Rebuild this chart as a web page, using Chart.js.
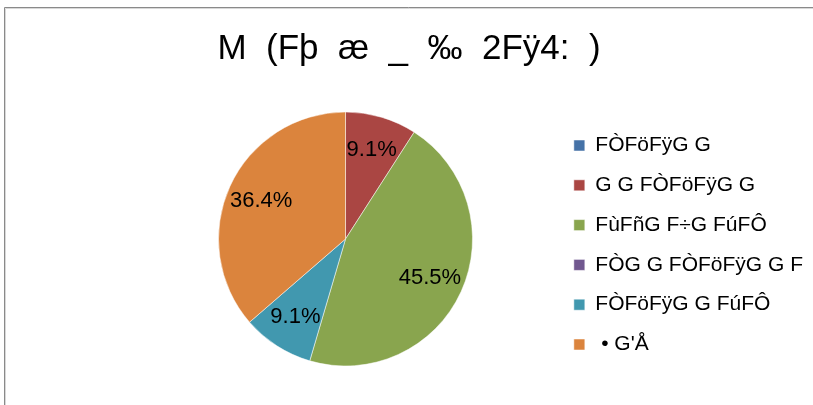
<!DOCTYPE html>
<html>
<head>
<meta charset="utf-8">
<script src="https://cdn.jsdelivr.net/npm/chart.js@4"></script>
<style>
  html, body { margin:0; padding:0; background:#fff; }
  #wrap { width:813px; height:405px; position:relative; }
</style>
</head>
<body>
<div id="wrap"><canvas id="chPie"></canvas></div>
<script>
// pie data
var labels = ['FÒFöFÿG G', 'G G FÒFöFÿG G', 'FùFñG F÷G FúFÔ', 'FÒG G FÒFöFÿG G F', 'FÒFöFÿG G FúFÔ', ' • G\'Å'];
var values = [0, 1, 5, 0, 1, 4];
var colors = ['#4572A7', '#AA4643', '#89A54E', '#71588F', '#4198AF', '#DB843D'];
var titleText = 'M  (Fþ  æ  _  ‰  2Fÿ4:  )';

var font = "'Liberation Sans', Arial, sans-serif";

// empty box on the left so the pie sits where it should
// while the title stays centred on the whole frame
var spacerPlugin = {
  id: 'spacer',
  beforeInit: function (chart) {
    Chart.layouts.addBox(chart, {
      position: 'left',
      weight: 0,
      fullSize: false,
      options: { display: false },
      isHorizontal: function () { return false; },
      update: function (maxWidth, maxHeight) { this.width = 131; this.height = maxHeight; },
      draw: function () {}
    });
  }
};

// gray frame round the chart (top + left visible)
var framePlugin = {
  id: 'frame',
  beforeDraw: function (chart) {
    var c = chart.ctx;
    c.save();
    c.lineWidth = 1;
    c.strokeStyle = '#d8d8d8';
    c.beginPath();
    c.moveTo(5.5, 406); c.lineTo(5.5, 8.5); c.lineTo(813, 8.5);
    c.stroke();
    c.strokeStyle = '#8a8a8a';
    c.beginPath();
    c.moveTo(4.5, 406); c.lineTo(4.5, 7.5); c.lineTo(813, 7.5);
    c.stroke();
    c.restore();
  }
};

// percentage labels inside slices
var pctPlugin = {
  id: 'pct',
  afterDatasetsDraw: function (chart) {
    var c = chart.ctx;
    var meta = chart.getDatasetMeta(0);
    var total = values.reduce(function (a, b) { return a + b; }, 0);
    c.save();
    c.font = '22px ' + font;
    c.fillStyle = '#000';
    c.textAlign = 'center';
    c.textBaseline = 'middle';
    meta.data.forEach(function (arc, i) {
      if (!values[i]) return;
      var p = arc.getProps(['x', 'y', 'startAngle', 'endAngle', 'outerRadius'], true);
      var mid = (p.startAngle + p.endAngle) / 2;
      var r = p.outerRadius * 0.73;
      c.fillText((values[i] / total * 100).toFixed(1) + '%', p.x + Math.cos(mid) * r, p.y + Math.sin(mid) * r);
    });
    c.restore();
  }
};

var chPie = document.getElementById('chPie');
if (chPie) {
  new Chart(chPie, {
    type: 'pie',
    data: {
      labels: labels,
      datasets: [{
        backgroundColor: colors,
        borderColor: '#ffffff',
        borderWidth: 0.5,
        data: values
      }]
    },
    options: {
      responsive: true,
      maintainAspectRatio: false,
      animation: false,
      radius: 127,
      layout: { padding: { left: 5, right: 0, top: 0, bottom: 27 } },
      plugins: {
        title: {
          display: true,
          text: titleText,
          color: '#000',
          font: { family: font, size: 35, weight: 'normal' },
          padding: { top: 28, bottom: 30 }
        },
        legend: {
          position: 'right',
          align: 'center',
          fullSize: false,
          // blank legend title, only nudges the items down a little
          title: { display: true, text: '', font: { size: 1 }, padding: 5.4 },
          labels: {
            boxWidth: 11,
            boxHeight: 11,
            padding: 18.8,
            color: '#000',
            font: { family: font, size: 21 }
          }
        },
        tooltip: { enabled: false }
      }
    },
    plugins: [spacerPlugin, framePlugin, pctPlugin]
  });
}
</script>
</body>
</html>
